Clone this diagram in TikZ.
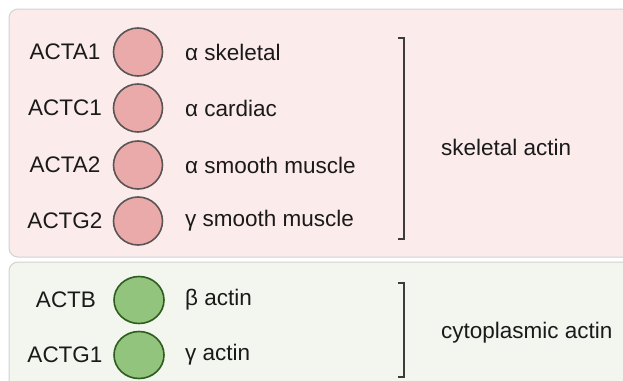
\documentclass[tikz,border=0pt]{standalone}
\usepackage{fontspec}
\setmainfont{Liberation Sans}
\usetikzlibrary{shapes.geometric}
\definecolor{pinkbg}{HTML}{FCEBEB}
\definecolor{greenbg}{HTML}{F3F5EF}
\definecolor{panelline}{HTML}{D2D2D2}
\definecolor{pinkfill}{HTML}{EBAAAA}
\definecolor{pinkline}{HTML}{5A5555}
\definecolor{greenfill}{HTML}{93C47D}
\definecolor{greenline}{HTML}{2E5E1E}
\definecolor{txt}{HTML}{1A1A1A}
\begin{document}
\begin{tikzpicture}[x=1pt,y=-1pt,
  panel/.style={draw=panelline, line width=1pt, rounded corners=9pt},
  lbl/.style={text=txt, font=\fontsize{22.5}{27}\selectfont, inner sep=0pt},
  gene/.style={lbl, anchor=center},
  desc/.style={lbl, anchor=west},
  group/.style={lbl, anchor=west},
  pinkdot/.style={ellipse, draw=pinkline, fill=pinkfill, line width=1.6pt, minimum width=49pt, minimum height=48pt, inner sep=0pt},
  greendot/.style={ellipse, draw=greenline, fill=greenfill, line width=1.6pt, minimum width=50pt, minimum height=47pt, inner sep=0pt},
  brace/.style={draw=txt!85, line width=1.1pt}
]
\useasboundingbox (0,0) rectangle (623,380);
\fill[white] (0,0) rectangle (623,380);
\path[panel, fill=pinkbg] (9,257) rectangle (640,9);
\path[panel, fill=greenbg] (9,400) rectangle (640,262);
% skeletal rows
\node[gene] (g1) at (65,52) {ACTA1};
\node[gene] (g2) at (65,108) {ACTC1};
\node[gene] (g3) at (65,165) {ACTA2};
\node[gene] (g4) at (65,221) {ACTG2};
\node[pinkdot] (c1) at (138,52) {};
\node[pinkdot] (c2) at (138,108) {};
\node[pinkdot] (c3) at (138,165) {};
\node[pinkdot] (c4) at (138,221) {};
\node[desc] (d1) at (185,52) {α skeletal};
\node[desc] (d2) at (185,108) {α cardiac};
\node[desc] (d3) at (185,165) {α smooth muscle};
\node[desc] (d4) at (185,221) {γ smooth muscle};
\coordinate (b1t) at (398,38);
\coordinate (b1b) at (398,239);
\draw[brace] (b1t) -- ++(6,0) |- (b1b);
\node[group] (s) at (441,147) {skeletal actin};
% cytoplasmic rows
\node[gene] (g5) at (66,300) {ACTB};
\node[gene] (g6) at (65,355) {ACTG1};
\node[greendot] (c5) at (139,300) {};
\node[greendot] (c6) at (139,355) {};
\node[desc] (d5) at (185,300) {β actin};
\node[desc] (d6) at (185,355) {γ actin};
\coordinate (b2t) at (398,283);
\coordinate (b2b) at (398,377);
\draw[brace] (b2t) -- ++(6,0) |- (b2b);
\node[group] (cy) at (441,333) {cytoplasmic actin};
\end{tikzpicture}
\end{document}
